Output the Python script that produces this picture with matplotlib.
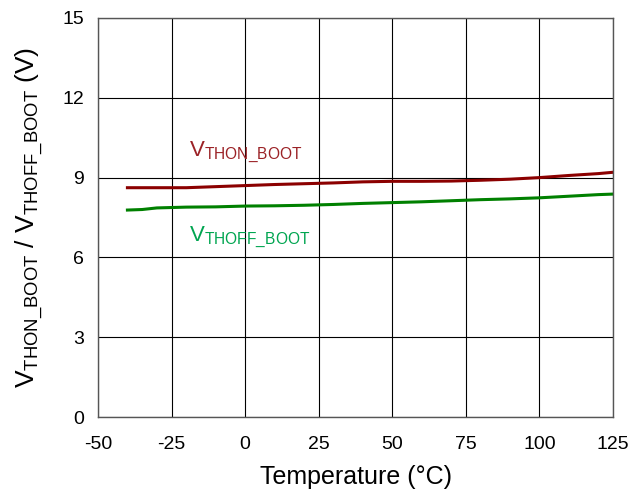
import matplotlib
matplotlib.use('Agg')
import matplotlib.pyplot as plt

plt.rcParams['font.family'] = ['Liberation Sans', 'DejaVu Sans']
plt.rcParams['mathtext.fontset'] = 'custom'
plt.rcParams['mathtext.rm'] = 'Liberation Sans'
plt.rcParams['mathtext.it'] = 'Liberation Sans'
plt.rcParams['axes.unicode_minus'] = False

temp_on = [-40, -30, -20, -10, 0, 10, 20, 30, 40, 50, 60, 70, 80, 90, 100, 110, 120, 125]
vthon = [8.62, 8.62, 8.62, 8.66, 8.70, 8.74, 8.77, 8.80, 8.84, 8.86, 8.86, 8.87, 8.90, 8.94, 9.00, 9.08, 9.15, 9.20]
temp_off = [-40, -35, -30, -20, -10, 0, 10, 20, 30, 40, 50, 60, 70, 80, 90, 100, 110, 120, 125]
vthoff = [7.78, 7.80, 7.86, 7.89, 7.90, 7.93, 7.94, 7.96, 7.99, 8.03, 8.06, 8.09, 8.13, 8.17, 8.20, 8.24, 8.30, 8.36, 8.38]
xticks = [-50, -25, 0, 25, 50, 75, 100, 125]
yticks = [0, 3, 6, 9, 12, 15]

fig = plt.figure(figsize=(6.32, 4.98), dpi=100)
ax = fig.add_axes([98 / 632, 81 / 498, 515 / 632, 399 / 498])

ax.plot(temp_on, vthon, color='#8B0000', lw=2.2)
ax.plot(temp_off, vthoff, color='#008000', lw=2.2)

ax.set_xlim(-50, 125)
ax.set_ylim(0, 15)
ax.set_xticks(xticks)
ax.set_yticks(yticks)
ax.grid(True, color='black', lw=0.8)
for s in ax.spines.values():
    s.set_color('#555555')
    s.set_linewidth(1.0)
ax.tick_params(axis='both', labelsize=14, length=0)
ax.tick_params(axis='x', pad=14)
ax.tick_params(axis='y', pad=10)

ax.set_xlabel('Temperature (°C)', fontsize=18, labelpad=8)
ax.set_ylabel(r'V$_{\mathrm{THON\_BOOT}}$ / V$_{\mathrm{THOFF\_BOOT}}$ (V)', fontsize=19, labelpad=12)

ax.text(-19, 9.95, r'V$_{\mathrm{THON\_BOOT}}$', color='#9B2226', fontsize=16, va='center')
ax.text(-19, 6.75, r'V$_{\mathrm{THOFF\_BOOT}}$', color='#00A550', fontsize=16, va='center')

fig.savefig('out.png', dpi=100)
